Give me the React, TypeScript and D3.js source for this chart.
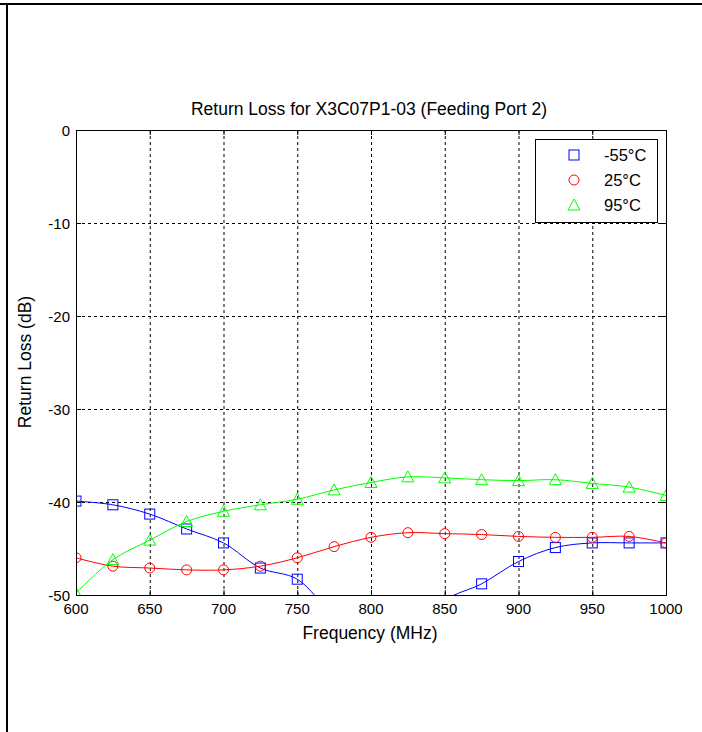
import React from "react";
import * as d3 from "d3";

const freqs = [600, 625, 650, 675, 700, 725, 750, 775, 800, 825, 850, 875, 900, 925, 950, 975, 1000];
const lossM55 = [-39.9, -40.3, -41.3, -42.9, -44.4, -47.1, -48.3, -52.3, -55.0, -55.0, -50.6, -48.8, -46.4, -44.9, -44.4, -44.4, -44.4];
const loss25 = [-46.0, -46.9, -47.1, -47.3, -47.3, -46.9, -46.0, -44.8, -43.8, -43.3, -43.4, -43.5, -43.7, -43.8, -43.8, -43.7, -44.4];
const loss95 = [-49.8, -46.2, -44.1, -42.1, -41.0, -40.3, -39.7, -38.7, -37.9, -37.3, -37.4, -37.6, -37.7, -37.6, -38.0, -38.4, -39.3];
const xTicks = [600, 650, 700, 750, 800, 850, 900, 950, 1000];
const yTicks = [0, -10, -20, -30, -40, -50];
const seriesNames = ["-55°C", "25°C", "95°C"];
const seriesColors = ["#0000ff", "#ff0000", "#00ff00"];
const seriesMarkers = ["square", "circle", "triangle"];
const titleText = "Return Loss for X3C07P1-03 (Feeding Port 2)";
const xLabel = "Frequency (MHz)";
const yLabel = "Return Loss (dB)";

const W = 702, H = 732;
const L = 76, R = 666, T = 130, B = 595;
const FONT = "'Liberation Sans', Arial, sans-serif";

function Marker({ type, x, y, color }: { type: string; x: number; y: number; color: string }) {
  if (type === "square") return <rect x={x - 5} y={y - 5} width={10} height={10} fill="none" stroke={color} strokeWidth={1} />;
  if (type === "circle") return <circle cx={x} cy={y} r={5} fill="none" stroke={color} strokeWidth={1} />;
  return <path d={`M${x},${y - 6}L${x + 6},${y + 5}L${x - 6},${y + 5}Z`} fill="none" stroke={color} strokeWidth={1} />;
}

export default function App() {
  const x = d3.scaleLinear().domain([600, 1000]).range([L, R]);
  const y = d3.scaleLinear().domain([-50, 0]).range([B, T]);
  const allSeries = [lossM55, loss25, loss95];
  const line = d3.line<[number, number]>().x(d => x(d[0])).y(d => y(d[1])).curve(d3.curveCatmullRom.alpha(0.5));

  return (
    <svg width={W} height={H} style={{ position: "absolute", left: 0, top: 0, background: "#fff" }} fontFamily={FONT}>
      <rect x={0} y={0} width={W} height={H} fill="#fff" />
      <line x1={0} x2={W} y1={4} y2={4} stroke="#000" strokeWidth={2} />
      <line x1={7} x2={7} y1={3} y2={H} stroke="#000" strokeWidth={2} />
      <defs>
        <clipPath id="plotclip"><rect x={L} y={T} width={R - L} height={B - T} /></clipPath>
      </defs>
      {xTicks.slice(1, -1).map(t => (
        <line key={"gx" + t} x1={x(t) + 0.5} x2={x(t) + 0.5} y1={T} y2={B} stroke="#000" strokeDasharray="3,3" strokeWidth={1} />
      ))}
      {yTicks.slice(1, -1).map(t => (
        <line key={"gy" + t} x1={L} x2={R} y1={y(t) + 0.5} y2={y(t) + 0.5} stroke="#000" strokeDasharray="3,3" strokeWidth={1} />
      ))}
      {xTicks.map(t => (
        <g key={"tx" + t}>
          <line x1={x(t) + 0.5} x2={x(t) + 0.5} y1={B} y2={B - 5} stroke="#000" />
          <line x1={x(t) + 0.5} x2={x(t) + 0.5} y1={T} y2={T + 5} stroke="#000" />
          <text x={x(t)} y={614} textAnchor="middle" fontSize={15}>{t}</text>
        </g>
      ))}
      {yTicks.map(t => (
        <g key={"ty" + t}>
          <line x1={L} x2={L + 5} y1={y(t) + 0.5} y2={y(t) + 0.5} stroke="#000" />
          <line x1={R} x2={R - 5} y1={y(t) + 0.5} y2={y(t) + 0.5} stroke="#000" />
          <text x={70} y={y(t) + 5.5} textAnchor="end" fontSize={15}>{t}</text>
        </g>
      ))}
      <g clipPath="url(#plotclip)">
        {allSeries.map((vals, i) => {
          const pts: [number, number][] = freqs.map((f, j) => [f, vals[j]]);
          return (
            <g key={"s" + i}>
              <path d={line(pts) || ""} fill="none" stroke={seriesColors[i]} strokeWidth={1} />
              {pts.map((p, j) => (
                <Marker key={j} type={seriesMarkers[i]} x={x(p[0])} y={y(p[1])} color={seriesColors[i]} />
              ))}
            </g>
          );
        })}
      </g>
      <rect x={L + 0.5} y={T + 0.5} width={R - L} height={B - T} fill="none" stroke="#000" strokeWidth={1} />
      <rect x={535.5} y={139.5} width={122} height={83} fill="#fff" stroke="#000" strokeWidth={1} />
      {seriesNames.map((n, i) => (
        <g key={"lg" + i}>
          <Marker type={seriesMarkers[i]} x={574} y={155 + i * 25} color={seriesColors[i]} />
          <text x={604} y={161 + i * 25} fontSize={16.5}>{n}</text>
        </g>
      ))}
      <text x={369} y={115} textAnchor="middle" fontSize={17.5}>{titleText}</text>
      <text x={370} y={639} textAnchor="middle" fontSize={17.5}>{xLabel}</text>
      <text transform={`translate(31,362) rotate(-90)`} textAnchor="middle" fontSize={17.5}>{yLabel}</text>
    </svg>
  );
}
